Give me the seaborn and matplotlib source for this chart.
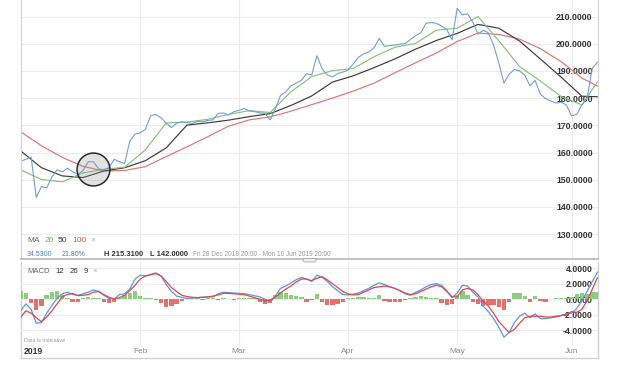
import numpy as np
import seaborn as sns
import matplotlib.pyplot as plt
from matplotlib.patches import FancyBboxPatch

price = [156.8, 157.5, 158.3, 143.5, 147.5, 147.0, 151.0, 153.6, 152.9, 154.2,
         152.9, 151.9, 153.4, 156.6, 156.6, 154.0, 153.6, 154.5, 157.5, 156.6,
         156.0, 164.2, 166.8, 167.2, 168.6, 173.5, 174.0, 172.8, 170.8, 169.2,
         170.7, 171.3, 171.0, 170.7, 171.5, 171.3, 171.8, 172.0, 174.4, 174.5,
         173.8, 175.0, 175.5, 176.2, 175.3, 175.0, 174.6, 174.4, 172.0, 176.0,
         181.0, 182.3, 184.5, 185.5, 186.5, 189.0, 188.5, 195.6, 190.8, 188.5,
         187.8, 189.0, 189.6, 190.3, 192.6, 195.0, 196.3, 197.0, 198.5, 202.0,
         199.0, 199.3, 199.5, 199.8, 200.1, 201.5, 203.0, 204.0, 207.5, 207.8,
         207.5, 206.5, 205.2, 201.4, 213.0, 210.6, 211.0, 208.0, 203.5, 205.0,
         204.0, 199.5, 193.0, 185.5, 188.8, 190.5, 190.0, 188.5, 184.5, 186.5,
         181.5, 179.8, 179.0, 178.2, 178.5, 177.5, 173.5, 174.0, 177.5, 180.0,
         191.0, 193.2]

ma_idx = [0, 4, 8, 12, 16, 20, 24, 28, 32, 36, 40, 44, 48, 52, 56, 60, 64, 68,
          72, 76, 80, 84, 88, 92, 96, 100, 104, 108, 111]
ma20 = [153.6, 150.1, 149.2, 152.5, 153.8, 154.6, 161.0, 170.9, 171.2, 172.2,
        174.0, 175.4, 174.7, 182.3, 187.9, 190.1, 190.9, 195.2, 198.7, 200.1,
        205.0, 205.7, 210.0, 201.1, 191.6, 186.3, 180.6, 177.5, 186.0]
ma50 = [160.6, 154.4, 151.4, 150.8, 153.2, 154.4, 157.0, 161.7, 170.1, 170.9,
        171.9, 173.2, 174.3, 177.3, 180.8, 185.9, 188.2, 191.2, 194.4, 198.0,
        201.2, 203.8, 207.1, 205.7, 201.0, 194.4, 187.7, 180.7, 180.5]
ma100 = [167.6, 162.5, 158.2, 154.9, 153.2, 153.4, 154.8, 158.5, 162.1, 165.8,
         169.7, 172.0, 173.1, 175.2, 177.6, 180.0, 182.6, 185.5, 189.3, 193.0,
         196.6, 200.8, 203.9, 203.4, 201.7, 198.2, 193.4, 187.4, 184.4]

# MACD 12 26 9
macd = [-1.5, -0.6, -1.3, -3.1, -3.0, -1.8, -0.8, 0.1, 0.7, 0.9,
        0.6, 0.5, 0.7, 0.9, 1.2, 1.0, 0.5, 0.1, 0.0, 0.6,
        0.7, 1.3, 2.6, 3.1, 3.0, 3.2, 3.4, 3.0, 1.9, 1.0,
        0.4, 0.25, 0.1, 0.15, 0.2, 0.25, 0.3, 0.3, 0.7, 0.9,
        0.85, 0.8, 0.75, 0.7, 0.6, 0.45, 0.3, 0.0, -0.4, 0.4,
        1.4, 1.7, 2.1, 2.5, 2.8, 2.6, 2.3, 3.1, 2.8, 2.3,
        1.6, 1.1, 0.6, 0.55, 0.65, 0.8, 1.1, 1.4, 1.8, 2.1,
        1.9, 1.6, 1.4, 1.1, 0.7, 0.5, 0.9, 1.2, 1.6, 1.9,
        2.0, 1.8, 1.1, 0.2, 0.8, 1.8, 1.7, 0.9, 0.3, -0.9,
        -1.6, -2.5, -3.6, -4.9, -4.3, -3.0, -2.2, -1.8, -2.4, -1.9,
        -2.5, -2.5, -2.4, -2.3, -2.1, -1.9, -1.8, -1.2, -0.2, 1.0,
        2.3, 3.5]
signal = [-2.3, -1.5, -1.8, -2.4, -2.9, -2.3, -1.5, -0.6, 0.3, 0.6,
          0.75, 0.45, 0.5, 0.6, 0.9, 1.0, 0.6, 0.25, 0.05, 0.2,
          0.5, 1.1, 1.8, 2.6, 3.0, 3.15, 3.3, 3.0, 2.3, 1.5,
          1.0, 0.5, 0.35, 0.25, 0.2, 0.25, 0.3, 0.4, 0.55, 0.75,
          0.75, 0.7, 0.65, 0.6, 0.4, 0.2, 0.0, -0.2, -0.1, 0.3,
          0.8, 1.3, 1.7, 2.2, 2.6, 2.6, 2.4, 2.7, 2.9, 2.5,
          2.0, 1.5, 1.0, 0.7, 0.55, 0.6, 0.9, 1.2, 1.5, 1.6,
          1.7, 1.6, 1.4, 1.1, 0.8, 0.6, 0.7, 1.0, 1.3, 1.6,
          1.8, 1.6, 1.0, 0.3, 0.3, 1.2, 1.4, 1.2, 0.6, -0.3,
          -0.9, -1.8, -2.9, -3.6, -4.3, -3.9, -3.1, -2.4, -2.2, -2.2,
          -2.2, -2.3, -2.3, -2.2, -2.1, -2.0, -1.6, -1.7, -1.3, -0.2,
          1.3, 2.8]
hist = [1.0, 0.8, -0.5, -1.4, -0.9, 0.5, 0.9, 1.0, 0.6, 0.2,
        -0.4, -0.3, 0.15, 0.25, 0.2, 0.1, -0.35, -0.45, -0.3, 0.2,
        0.5, 0.8, 1.0, 0.4, 0.1, 0.2, -0.1, -0.5, -1.0, -0.9,
        -0.6, -0.2, 0.1, 0.15, 0.1, -0.1, 0.1, 0.15, -0.15, 0.1,
        0.05, -0.05, 0.1, 0.15, 0.2, 0.1, -0.3, -0.6, -0.5, 0.6,
        0.9, 0.8, 0.6, 0.4, 0.3, -0.3, -0.1, 0.7, -0.4, -0.7,
        -0.75, -0.6, -0.3, 0.1, 0.2, 0.3, 0.3, 0.2, 0.1, 0.5,
        -0.2, -0.4, -0.35, -0.3, -0.1, 0.2, 0.3, 0.35, 0.3, 0.2,
        0.1, -0.5, -0.7, -0.6, 0.6, 1.0, 0.5, -0.3, -0.6, -0.9,
        -0.7, -0.8, -1.0, -1.4, -0.3, 0.8, 0.85, 0.4, -0.4, 0.45,
        -0.2, -0.4, 0.05, 0.1, 0.15, 0.2, 0.3, 0.7, 0.8, 0.7,
        0.9, 0.9]

month_idx = [23, 42, 63, 84, 106]
month_labels = ['Feb', 'Mar', 'Apr', 'May', 'Jun']
price_ticks = [130, 140, 150, 160, 170, 180, 190, 200, 210]
macd_ticks = [4, 2, 0, -2, -4]
circle_day, circle_price = 14, 154

days = np.arange(len(price))

sns.set_style('white')
plt.rcParams['font.family'] = ['Liberation Sans', 'DejaVu Sans']

W, H = 620, 370
fig = plt.figure(figsize=(6.2, 3.7), dpi=100)

def fx(px):
    return px / W

def fy(py):
    return 1 - py / H

x0, x1 = 20.7, 597.5
ax = fig.add_axes([fx(x0), fy(259), fx(x1 - x0), 259 / H])
frame = fig.add_axes([fx(x0), fy(358), fx(x1 - x0), (358 - 262) / H])
ax2 = fig.add_axes([fx(x0), fy(345), fx(x1 - x0), (345 - 262) / H])

grid_c = '#ececec'
frame_c = '#d2d2d2'

# Rahmen unten
frame.set_xticks([])
frame.set_yticks([])
for s in ['left', 'right', 'bottom']:
    frame.spines[s].set_color(frame_c)
    frame.spines[s].set_linewidth(1.0)
frame.spines['top'].set_visible(False)
frame.set_zorder(0)

# Hauptchart
sns.lineplot(x=ma_idx, y=ma100, ax=ax, color='#e07575', lw=0.85)
sns.lineplot(x=ma_idx, y=ma50, ax=ax, color='#3a3a3a', lw=0.85)
sns.lineplot(x=ma_idx, y=ma20, ax=ax, color='#86c27a', lw=0.85)
sns.lineplot(x=days, y=price, ax=ax, color='#6f9fd8', lw=0.8)
ax.scatter([circle_day], [circle_price], s=560, facecolor=(0.6, 0.6, 0.6, 0.28),
           edgecolor='#2a2a2a', linewidth=1.1, zorder=6)

ax.set_xlim(0, len(price) - 1)
ax.set_ylim(120.85, 216.07)
ax.set_xticks(month_idx)
ax.tick_params(axis='x', length=0, labelbottom=False)
ax.yaxis.tick_right()
ax.set_yticks(price_ticks)
ax.set_yticklabels([f'{v:.4f}' for v in price_ticks])
ax.tick_params(axis='y', length=0, pad=-3.5, labelsize=6.2, labelcolor='#333333')
for lab in ax.get_yticklabels():
    lab.set_ha('right')
    lab.set_fontweight('bold')
ax.grid(True, color=grid_c, lw=0.8)
ax.set_axisbelow(True)
ax.spines['top'].set_visible(False)
ax.spines['left'].set_color(frame_c)
ax.spines['right'].set_color(frame_c)
ax.spines['bottom'].set_color('#b5b5b5')
ax.spines['bottom'].set_linewidth(1.2)
ax.set_xlabel('')
ax.set_ylabel('')

# MACD
colors = ['#82c775' if v >= 0 else '#e3625c' for v in hist]
ax2.bar(days, hist, width=0.85, color=colors, linewidth=0, alpha=0.9, zorder=2)
sns.lineplot(x=days, y=macd, ax=ax2, color='#5d95e6', lw=0.9, zorder=3)
sns.lineplot(x=days, y=signal, ax=ax2, color='#e0474c', lw=0.9, zorder=3)
ax2.set_xlim(0, len(price) - 1)
ax2.set_ylim(-5.91, 4.8)
ax2.set_facecolor('none')
ax2.set_xticks(month_idx)
ax2.set_xticklabels(month_labels)
ax2.tick_params(axis='x', length=0, pad=2.2, labelsize=6, labelcolor='#8a8a8a')
ax2.yaxis.tick_right()
ax2.set_yticks(macd_ticks)
ax2.set_yticklabels([f'{v:.4f}' for v in macd_ticks])
ax2.tick_params(axis='y', length=0, pad=-3.5, labelsize=6.2, labelcolor='#333333')
for lab in ax2.get_yticklabels():
    lab.set_ha('right')
    lab.set_fontweight('bold')
ax2.grid(True, color=grid_c, lw=0.8)
ax2.set_axisbelow(True)
for s in ax2.spines.values():
    s.set_visible(False)
ax2.set_xlabel('')
ax2.set_ylabel('')

# Beschriftungen
fig.text(fx(27), fy(240.7), 'MA', color='#666666', fontsize=6, va='center')
fig.text(fx(45), fy(240.7), '20', color='#5cb85c', fontsize=6, va='center')
fig.text(fx(58), fy(240.7), '50', color='#333333', fontsize=6, va='center')
fig.text(fx(72.5), fy(240.7), '100', color='#d9534f', fontsize=6, va='center')
fig.text(fx(90.5), fy(240.7), '×', color='#aaaaaa', fontsize=6, va='center')

fig.text(fx(27), fy(254.3), '34.5300', color='#4a7fc1', fontsize=5, va='center')
fig.text(fx(62), fy(254.3), '21.80%', color='#4a7fc1', fontsize=5, va='center')
fig.text(fx(104), fy(254.3), 'H 215.3100', color='#333333', fontsize=5.4,
         va='center', fontweight='bold')
fig.text(fx(150), fy(254.3), 'L 142.0000', color='#333333', fontsize=5.4,
         va='center', fontweight='bold')
fig.text(fx(193), fy(254.3), 'Fri 28 Dec 2018 20:00 - Mon 10 Jun 2019 20:00',
         color='#9a9a9a', fontsize=4.7, va='center')

fig.text(fx(27.5), fy(271.7), 'MACD', color='#666666', fontsize=5.6, va='center')
fig.text(fx(55.5), fy(271.7), '12', color='#333333', fontsize=5.6, va='center')
fig.text(fx(70), fy(271.7), '26', color='#333333', fontsize=5.6, va='center')
fig.text(fx(83.3), fy(271.7), '9', color='#333333', fontsize=5.6, va='center')
fig.text(fx(92), fy(271.7), '×', color='#aaaaaa', fontsize=5.6, va='center')

fig.text(fx(24), fy(340), 'Data is indicative', color='#9a9a9a', fontsize=3.9, va='center')
fig.text(fx(24), fy(352), '2019', color='#333333', fontsize=6.2, va='center',
         fontweight='bold')

# Griff am Trenner
fig.patches.append(FancyBboxPatch((fx(303), fy(262)), fx(13), 3.5 / H,
                                  boxstyle='round,pad=0,rounding_size=0.003',
                                  transform=fig.transFigure, facecolor='#eeeeee',
                                  edgecolor='#a8a8a8', linewidth=0.6, zorder=10))

fig.savefig('out.png', dpi=100)
